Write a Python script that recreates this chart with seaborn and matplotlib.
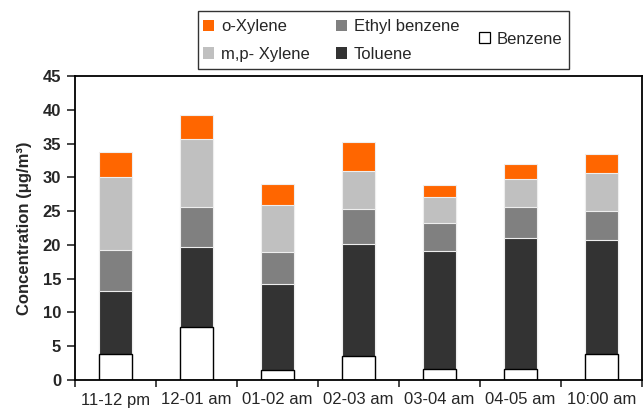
import matplotlib
matplotlib.use("Agg")
import matplotlib.pyplot as plt
import seaborn as sns
import pandas as pd
import numpy as np
from matplotlib.patches import Patch, Rectangle

categories = ["11-12 pm", "12-01 am", "01-02 am", "02-03 am", "03-04 am", "04-05 am", "10:00 am"]
benzene = [3.8, 7.9, 1.5, 3.6, 1.7, 1.7, 3.8]
toluene = [9.4, 11.8, 12.7, 16.5, 17.4, 19.3, 16.9]
ethyl_benzene = [6.1, 5.9, 4.7, 5.2, 4.1, 4.6, 4.3]
mp_xylene = [10.8, 10.1, 7.0, 5.7, 3.9, 4.1, 5.7]
o_xylene = [3.7, 3.5, 3.1, 4.2, 1.7, 2.3, 2.7]

series = [
    ("Benzene", benzene, "#FFFFFF"),
    ("Toluene", toluene, "#333333"),
    ("Ethyl benzene", ethyl_benzene, "#808080"),
    ("m,p- Xylene", mp_xylene, "#C0C0C0"),
    ("o-Xylene", o_xylene, "#FF6600"),
]

sns.set_style("ticks")
plt.rcParams["font.family"] = ["Liberation Sans", "DejaVu Sans"]

fig = plt.figure(figsize=(6.43, 4.09), dpi=100)
ax = fig.add_axes([75 / 643, 1 - 380 / 409, 567 / 643, 304 / 409])

cum = np.zeros(len(categories))
cums = []
for name, vals, col in series:
    cum = cum + np.array(vals)
    cums.append((name, cum.copy(), col))

# draw from tallest cumulative to shortest (overlay stacking)
for name, c, col in reversed(cums):
    df = pd.DataFrame({"cat": categories, "val": c})
    if name == "Benzene":
        ec, lw = "black", 1.0
    else:
        ec, lw = "#EEEEEE", 0.8
    sns.barplot(data=df, x="cat", y="val", color=col, width=0.41,
                edgecolor=ec, linewidth=lw, saturation=1, ax=ax, zorder=2)

ax.set_xlim(-0.5, len(categories) - 0.5)
ax.set_ylim(0, 45)
ax.set_yticks(np.arange(0, 46, 5))
ax.set_xlabel("")
ax.set_ylabel("Concentration (μg/m³)", fontsize=12, fontweight="bold", labelpad=8)
for lab in ax.get_yticklabels():
    lab.set_fontweight("bold")
ax.tick_params(axis="y", labelsize=12, length=6, width=1.2, pad=4, direction="out")
ax.set_xticks(range(len(categories)))
ax.set_xticklabels(categories)
ax.tick_params(axis="x", which="major", labelsize=12, length=0, pad=9)
ax.set_xticks(np.arange(-0.5, len(categories), 1.0), minor=True)
ax.tick_params(axis="x", which="minor", length=5, width=1.2, direction="out")
for s in ax.spines.values():
    s.set_visible(True)
    s.set_linewidth(1.3)
    s.set_color("black")

# legend frame
fig.patches.append(Rectangle((198 / 643, 1 - 69 / 409), 371 / 643, 58 / 409,
                             transform=fig.transFigure, fill=False,
                             edgecolor="#333333", linewidth=1.0))

colmap = {n: c for n, _, c in series}
l4 = ["o-Xylene", "m,p- Xylene", "Ethyl benzene", "Toluene"]
h4 = [Patch(facecolor=colmap[n], edgecolor="none") for n in l4]
leg1 = fig.legend(h4, l4, ncol=2, frameon=False, fontsize=12,
                  loc="upper left", bbox_to_anchor=(200 / 643, 1 - 16 / 409),
                  handlelength=0.65, handleheight=0.65, handletextpad=0.4,
                  columnspacing=1.6, labelspacing=0.75, borderaxespad=0, borderpad=0.2)
leg2 = fig.legend([Patch(facecolor="white", edgecolor="black", linewidth=0.9)], ["Benzene"],
                  frameon=False, fontsize=12, loc="center left",
                  bbox_to_anchor=(476 / 643, 1 - 39 / 409),
                  handlelength=0.65, handleheight=0.65, handletextpad=0.4,
                  borderaxespad=0, borderpad=0.2)

fig.savefig("out.png", dpi=100)
